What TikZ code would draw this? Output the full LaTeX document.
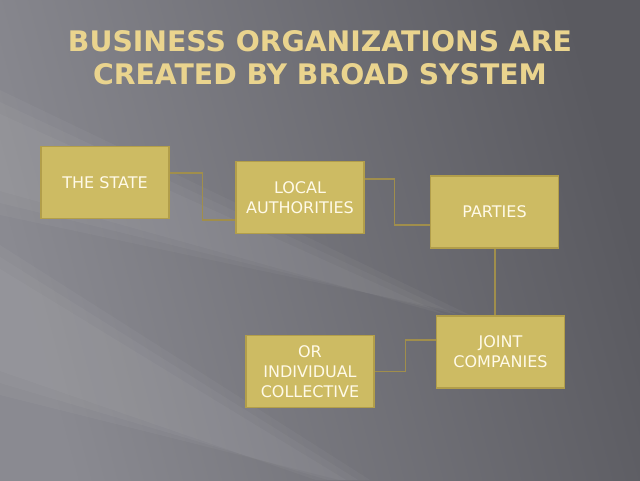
\documentclass[tikz,border=0pt]{standalone}
\usepackage{fontspec}
\setmainfont{DejaVu Sans}
\usepackage{xcolor}
\usepackage{tikz}
\usetikzlibrary{calc}

\definecolor{bgdark}{RGB}{90,90,96}
\definecolor{bglight}{RGB}{138,138,145}
\definecolor{boxfill}{RGB}{205,187,99}
\definecolor{boxline}{RGB}{178,158,74}
\definecolor{linkcol}{RGB}{160,142,76}
\definecolor{titlecol}{RGB}{234,212,142}
\definecolor{textcol}{RGB}{255,250,232}

\tikzset{
	box/.style={rectangle,
	minimum width =128pt ,
	minimum height =72pt ,
	fill=boxfill,draw=boxline,line width=1.6pt,
	text=textcol,align=center,
	font=\fontsize{16}{20}\selectfont},
	link/.style={draw=linkcol,line width=1.1pt},
	streak/.style={white,opacity=.035}
}

\begin{document}
\begin{tikzpicture}[x=1pt,y=1pt]
	\useasboundingbox (0,0) rectangle (640,480);
	% background
	\shade[top color=bglight,bottom color=bgdark,shading angle=105] (0,0) rectangle (640,480);
	\foreach \d in {0,12,24} {
		\fill[streak] (0,390-\d) -- (0,265+\d) -- (470-\d,165) -- cycle;
		\fill[streak] (0,235-\d) -- (0,85+\d) -- (340-\d,0) -- (370-\d,0) -- cycle;
	}
	% title
	\node[text=titlecol,align=center,
	font=\fontsize{28.3}{33}\selectfont\bfseries] (0) at(320,422){BUSINESS ORGANIZATIONS ARE\\CREATED BY BROAD SYSTEM};
	% boxes
	\node[box] (1) at(105,297.5){THE STATE};
	\node[box] (2) at(300,282.5){LOCAL\\AUTHORITIES};
	\node[box] (3) at(494.5,268){PARTIES};
	\node[box] (4) at(500.5,128){JOINT\\COMPANIES};
	\node[box] (5) at(310,108.5){OR\\INDIVIDUAL\\COLLECTIVE};
	% links
	\draw[link] ([yshift=9.5]1.east) -- ++(32.5,0) |- ([yshift=-22.5]2.west);
	\draw[link] ([yshift=18.5]2.east) -- ++(30,0) |- ([yshift=-13]3.west);
	\draw[link] ([xshift=0.5]3.south) -- ([xshift=0.5]3.south |- 4.north);
	\draw[link] ([yshift=12]4.west) -- ++(-30,0) |- (5.east);
\end{tikzpicture}
\end{document}
